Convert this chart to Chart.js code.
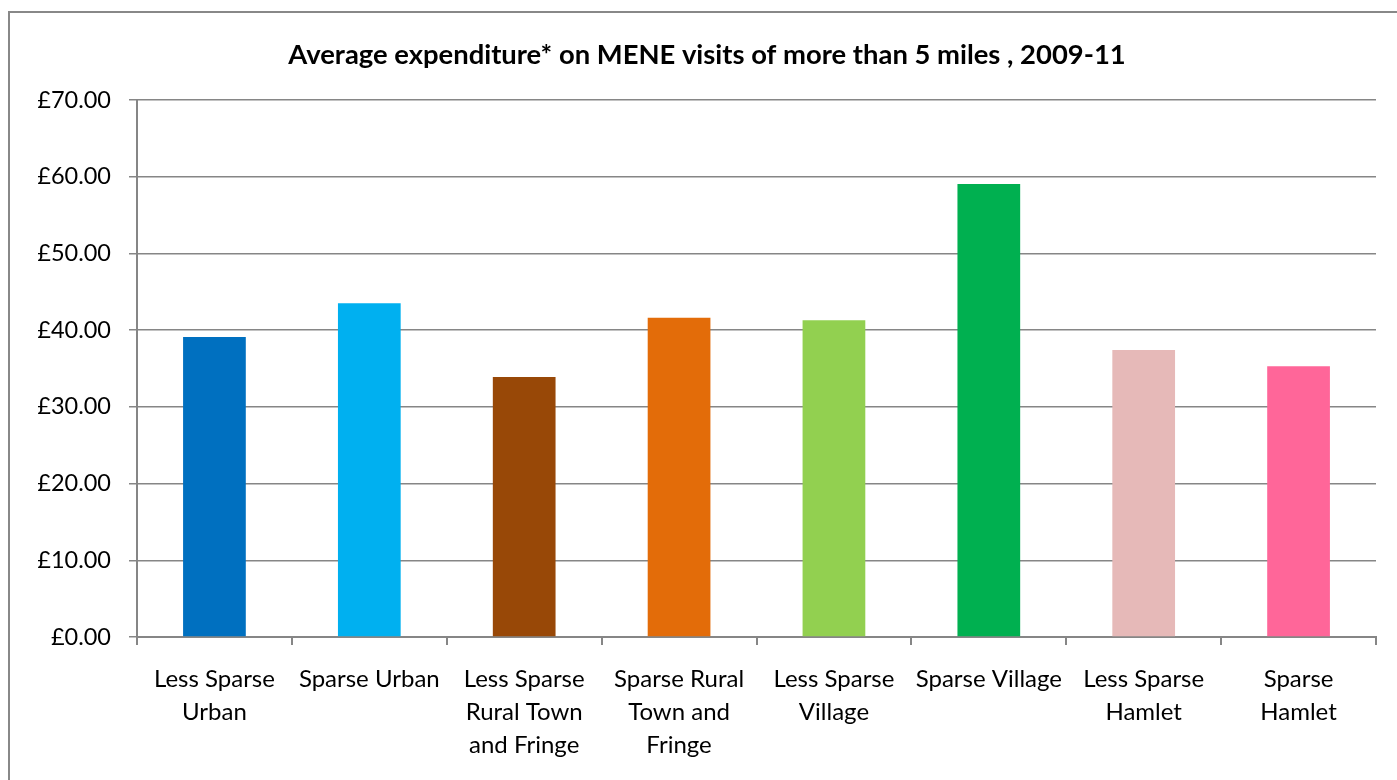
<!DOCTYPE html>
<html>
<head>
<meta charset="utf-8">
<script src="https://cdn.jsdelivr.net/npm/chart.js@4/dist/chart.umd.min.js"></script>
<style>
  html, body { margin: 0; padding: 0; background: #fff; overflow: hidden; }
  #frame {
    position: absolute; left: 8px; top: 11px;
    width: 1440px; height: 820px;
    border: 2px solid #888; box-sizing: border-box;
  }
  #wrap { position: absolute; left: 0; top: 0; width: 1397px; height: 780px; }
</style>
</head>
<body>
<div id="frame"></div>
<div id="wrap"><canvas id="chart"></canvas></div>
<script>
const categories = [
    ['Less Sparse', 'Urban'],
    ['Sparse Urban'],
    ['Less Sparse', 'Rural Town', 'and Fringe'],
    ['Sparse Rural', 'Town and', 'Fringe'],
    ['Less Sparse', 'Village'],
    ['Sparse Village'],
    ['Less Sparse', 'Hamlet'],
    ['Sparse', 'Hamlet']
];
const spend = [39.1, 43.5, 33.9, 41.6, 41.3, 59.05, 37.4, 35.3];
const barColours = ['#0070C0', '#00B0F0', '#984807', '#E36C09', '#92D050', '#00B050', '#E6B9B8', '#FF6699'];
const yTicks = [0, 10, 20, 30, 40, 50, 60, 70];

const axisGrey = '#868686';
const font = 'Lato, "Open Sans", sans-serif';

const ctx = document.getElementById('chart').getContext('2d');
new Chart(ctx, {
    type: 'bar',
    data: {
        labels: categories,
        datasets: [{
            data: spend,
            backgroundColor: barColours,
            borderWidth: 0,
            categoryPercentage: 1,
            barPercentage: 0.405
        }]
    },
    options: {
        responsive: true,
        maintainAspectRatio: false,
        animation: false,
        // left padding pushes the title centre right; y axis width makes up the rest
        layout: { padding: { left: 38, right: 21, top: 0, bottom: 0 } },
        plugins: {
            legend: { display: false },
            tooltip: { enabled: false },
            title: {
                display: true,
                text: 'Average expenditure* on MENE visits of more than 5 miles , 2009-11',
                color: '#000',
                font: { family: font, size: 27.4, weight: 'bold', lineHeight: 1.2 },
                padding: { top: 39, bottom: 28.1 }
            }
        },
        scales: {
            x: {
                grid: {
                    offset: true,
                    drawOnChartArea: false,
                    drawTicks: true,
                    tickLength: 8,
                    color: axisGrey,
                    lineWidth: 2
                },
                border: { color: axisGrey, width: 2 },
                ticks: {
                    color: '#000',
                    maxRotation: 0,
                    autoSkip: false,
                    padding: 18,
                    font: { family: font, size: 24, lineHeight: 1.375 }
                },
                afterFit: (scale) => { scale.height = 143; }
            },
            y: {
                min: 0,
                max: 70,
                afterBuildTicks: (scale) => {
                    scale.ticks = yTicks.map(v => ({ value: v }));
                },
                grid: {
                    color: axisGrey,
                    lineWidth: 1.5,
                    tickLength: 8
                },
                border: { color: axisGrey, width: 2 },
                ticks: {
                    color: '#000',
                    padding: 18,
                    font: { family: font, size: 23.5 },
                    callback: (v) => '£' + Number(v).toFixed(2)
                },
                afterFit: (scale) => { scale.width = 99; }
            }
        }
    }
});
</script>
</body>
</html>
